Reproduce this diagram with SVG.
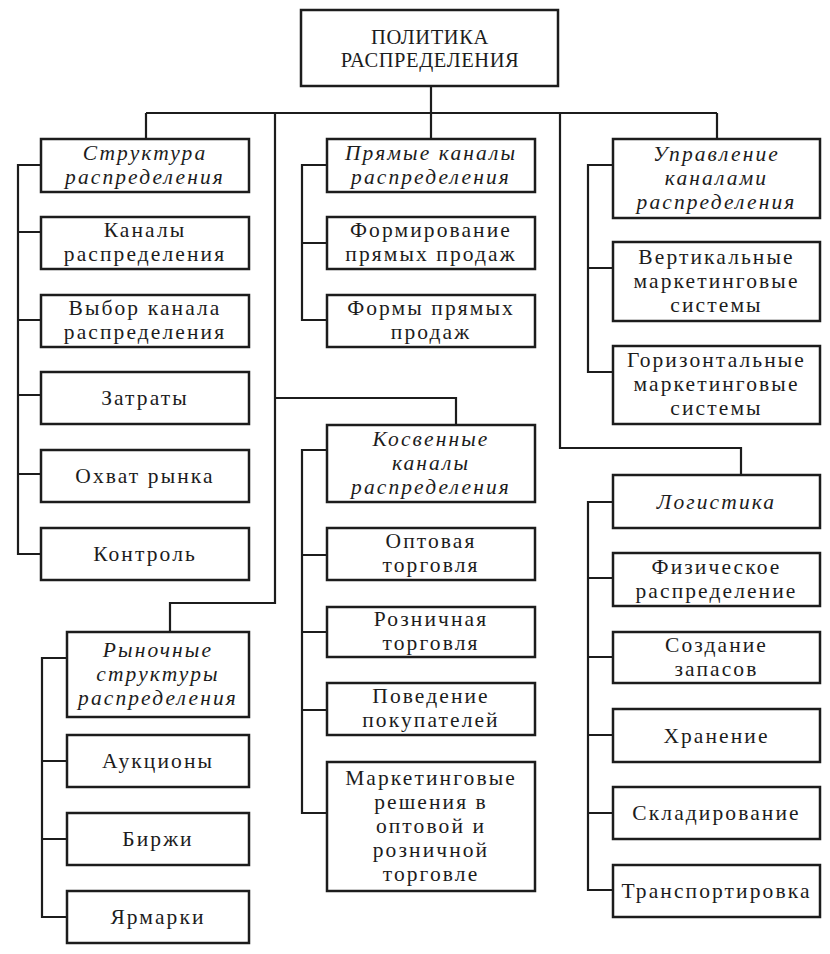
<svg xmlns="http://www.w3.org/2000/svg" width="830" height="954" viewBox="0 0 830 954">
<style>
.bx{fill:#fff;stroke:#1c1c1c;stroke-width:2.5}
.ln{fill:none;stroke:#1c1c1c;stroke-width:2.2}
text{font-family:"Liberation Serif","Times New Roman",serif;font-size:21.5px;fill:#1c1c1c;text-anchor:middle;letter-spacing:2.1px}
.it{font-style:italic}
.tt{font-size:20.5px;letter-spacing:0.6px}
</style>
<rect x="0" y="0" width="830" height="954" fill="#fff"/>
<g id="connectors">
<path class="ln" d="M431 87V139M146 113H717M146 113V139M717 113V139"/>
<path class="ln" d="M275 113V603H170V632M275 398H456V425"/>
<path class="ln" d="M560 113V448H741V475"/>
<path class="ln" d="M41 165H18V554H41M18 232H41M18 320H41M18 395H41M18 474H41"/>
<path class="ln" d="M327 165H302V320H327M302 243H327"/>
<path class="ln" d="M613 165H588V372H613M588 268H613"/>
<path class="ln" d="M327 450H302V813H327M302 555H327M302 632H327M302 710H327"/>
<path class="ln" d="M67 658H42V917H67M42 761H67M42 839H67"/>
<path class="ln" d="M613 502H588V890H613M588 578H613M588 657H613M588 735H613M588 813H613"/>
</g>
<g id="root"><rect class="bx" x="301" y="10" width="257" height="76"/><text class="tt"><tspan x="430" y="44">ПОЛИТИКА</tspan><tspan x="430" y="67">РАСПРЕДЕЛЕНИЯ</tspan></text></g>
<g id="struct"><rect class="bx" x="41" y="139" width="208" height="53"/><text class="it"><tspan x="145" y="159.5">Структура</tspan><tspan x="145" y="183.5">распределения</tspan></text></g>
<g id="kanaly"><rect class="bx" x="41" y="217" width="208" height="52"/><text><tspan x="145" y="237">Каналы</tspan><tspan x="145" y="261">распределения</tspan></text></g>
<g id="vybor"><rect class="bx" x="41" y="295" width="208" height="52"/><text><tspan x="145" y="315">Выбор канала</tspan><tspan x="145" y="339">распределения</tspan></text></g>
<g id="zatraty"><rect class="bx" x="41" y="372" width="208" height="52"/><text x="145" y="405">Затраты</text></g>
<g id="okhvat"><rect class="bx" x="41" y="450" width="208" height="52"/><text x="145" y="483">Охват рынка</text></g>
<g id="kontrol"><rect class="bx" x="41" y="528" width="208" height="52"/><text x="145" y="561">Контроль</text></g>
<g id="rynok"><rect class="bx" x="67" y="632" width="182" height="85"/><text class="it"><tspan x="158" y="656.5">Рыночные</tspan><tspan x="158" y="680.5">структуры</tspan><tspan x="158" y="704.5">распределения</tspan></text></g>
<g id="aukciony"><rect class="bx" x="67" y="735" width="182" height="52"/><text x="158" y="768">Аукционы</text></g>
<g id="birzhi"><rect class="bx" x="67" y="813" width="182" height="52"/><text x="158" y="846">Биржи</text></g>
<g id="yarmarki"><rect class="bx" x="67" y="891" width="182" height="52"/><text x="158" y="924">Ярмарки</text></g>
<g id="pryamye"><rect class="bx" x="327" y="139" width="208" height="53"/><text class="it"><tspan x="431" y="159.5">Прямые каналы</tspan><tspan x="431" y="183.5">распределения</tspan></text></g>
<g id="formirovanie"><rect class="bx" x="327" y="217" width="208" height="52"/><text><tspan x="431" y="237">Формирование</tspan><tspan x="431" y="261">прямых продаж</tspan></text></g>
<g id="formy"><rect class="bx" x="327" y="295" width="208" height="52"/><text><tspan x="431" y="315">Формы прямых</tspan><tspan x="431" y="339">продаж</tspan></text></g>
<g id="kosvennye"><rect class="bx" x="327" y="425" width="208" height="77"/><text class="it"><tspan x="431" y="445.5">Косвенные</tspan><tspan x="431" y="469.5">каналы</tspan><tspan x="431" y="493.5">распределения</tspan></text></g>
<g id="optovaya"><rect class="bx" x="327" y="528" width="208" height="52"/><text><tspan x="431" y="548">Оптовая</tspan><tspan x="431" y="572">торговля</tspan></text></g>
<g id="roznichnaya"><rect class="bx" x="327" y="607" width="208" height="50"/><text><tspan x="431" y="626">Розничная</tspan><tspan x="431" y="650">торговля</tspan></text></g>
<g id="povedenie"><rect class="bx" x="327" y="683" width="208" height="52"/><text><tspan x="431" y="703">Поведение</tspan><tspan x="431" y="727">покупателей</tspan></text></g>
<g id="marketing"><rect class="bx" x="327" y="762" width="208" height="129"/><text><tspan x="431" y="784.5">Маркетинговые</tspan><tspan x="431" y="808.5">решения в</tspan><tspan x="431" y="832.5">оптовой и</tspan><tspan x="431" y="856.5">розничной</tspan><tspan x="431" y="880.5">торговле</tspan></text></g>
<g id="upravlenie"><rect class="bx" x="613" y="139" width="207" height="79"/><text class="it"><tspan x="716.5" y="160.5">Управление</tspan><tspan x="716.5" y="184.5">каналами</tspan><tspan x="716.5" y="208.5">распределения</tspan></text></g>
<g id="vertikalnye"><rect class="bx" x="613" y="242" width="207" height="79"/><text><tspan x="716.5" y="263.5">Вертикальные</tspan><tspan x="716.5" y="287.5">маркетинговые</tspan><tspan x="716.5" y="311.5">системы</tspan></text></g>
<g id="gorizontalnye"><rect class="bx" x="613" y="346" width="207" height="78"/><text><tspan x="716.5" y="367">Горизонтальные</tspan><tspan x="716.5" y="391">маркетинговые</tspan><tspan x="716.5" y="415">системы</tspan></text></g>
<g id="logistika"><rect class="bx" x="613" y="475" width="207" height="53"/><text class="it" x="716.5" y="508.5">Логистика</text></g>
<g id="fizicheskoe"><rect class="bx" x="613" y="553" width="207" height="53"/><text><tspan x="716.5" y="573.5">Физическое</tspan><tspan x="716.5" y="597.5">распределение</tspan></text></g>
<g id="sozdanie"><rect class="bx" x="613" y="632" width="207" height="51"/><text><tspan x="716.5" y="651.5">Создание</tspan><tspan x="716.5" y="675.5">запасов</tspan></text></g>
<g id="khranenie"><rect class="bx" x="613" y="709" width="207" height="53"/><text x="716.5" y="742.5">Хранение</text></g>
<g id="skladirovanie"><rect class="bx" x="613" y="787" width="207" height="52"/><text x="716.5" y="820">Складирование</text></g>
<g id="transportirovka"><rect class="bx" x="613" y="865" width="207" height="52"/><text x="716.5" y="898">Транспортировка</text></g>
</svg>
